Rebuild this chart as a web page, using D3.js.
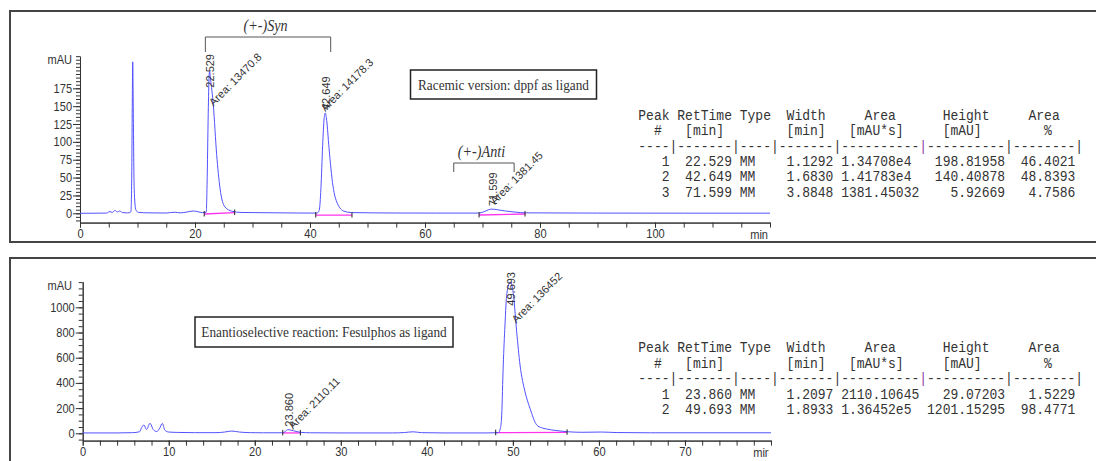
<!doctype html>
<html>
<head>
<meta charset="utf-8">
<style type="text/css">
html,body{
    margin: 0;
    background: #fff;
    overflow: hidden;
}
text { fill: #333; }
</style>
<script type="text/javascript" src="https://cdn.jsdelivr.net/npm/d3@7/dist/d3.min.js"></script>
</head>
<body>
<script type="text/javascript">
// traces, [min, mAU]
var racemicTrace = [
    [0,0],[4.6,0.3],[5.2,2.5],[5.6,1.2],[6.1,4],[6.5,1.8],[6.9,3.2],[7.4,1],[8.3,0.5],[8.85,2],
    [9.0,55],[9.1,160],[9.17,212],[9.27,140],[9.42,35],[9.7,5],[10.2,1.2],[12,0.6],[15,0.4],
    [16.5,1.5],[17.5,0.6],[18.6,1.8],[19.7,3.2],[20.5,2.2],[21.3,1],[21.95,1.5],
    [22.1,40],[22.3,140],[22.45,192],[22.53,198.8],[22.7,188],[23.18,152],[23.77,82],[24.35,35],
    [25.2,9],[26.4,3],[28,1.2],[32,0.8],[38,0.4],[41.2,0.3],[41.6,4],[41.9,35],[42.2,95],
    [42.45,132],[42.65,140.4],[42.9,130],[43.3,92],[44,38],[44.75,14],[45.9,3],[47.2,1],
    [55,0.4],[62,0.3],[69.3,0.3],[70.2,2],[71,4.8],[71.6,5.9],[72.6,5],[74,3.2],[75.8,1.6],
    [77.5,0.6],[90,0.3],[105,0.2],[120,0.2]
];
var fesulTrace = [
    [0,3],[4,3],[5.8,5],[6.6,12],[6.85,45],[7.12,66],[7.42,30],[7.82,79],[8.2,30],[8.6,14],
    [8.95,40],[9.25,79],[9.55,25],[10,10],[11,7],[13,5],[15.5,5],[16.5,10],[17.32,18],
    [18.2,10],[19.5,5],[21,4],[23.2,4],[23.5,12],[23.86,29],[24.5,20],[25.3,8],[26.5,4],
    [30,3],[36,3],[37.4,6],[38.4,12],[39.4,5],[42,3],[47,3],[48.3,5],[48.55,40],[48.7,145],
    [48.88,542],[49.08,860],[49.3,1110],[49.69,1201],[50.05,1110],[50.44,806],[50.83,542],
    [51.41,330],[51.99,198],[52.77,66],[53.3,45],[53.93,34],[55,22],[56.25,13],[58,8],
    [60.3,10],[62,6],[66,4],[80,4]
];

// integration results
var racemicNo = [1, 2, 3];
var racemicRT = [22.529, 42.649, 71.599];
var racemicType = ["MM", "MM", "MM"];
var racemicWidth = ["1.1292", "1.6830", "3.8848"];
var racemicArea = ["1.34708e4", "1.41783e4", "1381.45032"];
var racemicHeight = [198.81958, 140.40878, 5.92669];
var racemicPct = ["46.4021", "48.8393", "4.7586"];
var racemicAreaLabel = ["13470.8", "14178.3", "1381.45"];
// peak start / end on the baseline: [t0, v0, t1, v1]
var racemicBase = [[21.6,-1,26.9,1], [41.0,-2.5,47.3,-2.5], [69.4,-2.4,77.4,-1]];

var fesulNo = [1, 2];
var fesulRT = [23.860, 49.693];
var fesulType = ["MM", "MM"];
var fesulWidth = ["1.2097", "1.8933"];
var fesulArea = ["2110.10645", "1.36452e5"];
var fesulHeight = [29.07203, 1201.15295];
var fesulPct = ["1.5229", "98.4771"];
var fesulAreaLabel = ["2110.11", "136452"];
var fesulBase = [[23.25,3,25.3,3], [48.0,5,56.3,8]];

var racemicTicksY = [0, 25, 50, 75, 100, 125, 150, 175];
var racemicTicksX = [0, 20, 40, 60, 80, 100];
var fesulTicksY = [0, 200, 400, 600, 800, 1000];
var fesulTicksX = [0, 10, 20, 30, 40, 50, 60, 70];

var tableHead = [
    "Peak RetTime Type  Width     Area      Height     Area",
    "  #   [min]        [min]   [mAU*s]     [mAU]        %"
];

var SX = 0.885; // the scanned report is squeezed a little horizontally
var SANS = "Liberation Sans, Arial, sans-serif";
var SERIF = "Liberation Serif, Times New Roman, serif";
var MONO = "Liberation Mono, Courier New, monospace";

var svg = d3.select("body").append("svg:svg")
    .attr("width", 1096)
    .attr("height", 461);

function nb(s){ return s.replace(/ /g, "\u00a0"); }

function htext(g, x, y, str){
    return g.append("text")
        .attr("transform", "translate(" + x + "," + y + ") scale(" + SX + ",1)")
        .text(nb(str));
}

function drawPanel(o){
    var g = svg.append("g");
    var x = o.x, y = o.y;
    var x0 = x.range()[0], yAx = y.range()[0];

    // frame
    g.append("rect")
        .attr("x", 10).attr("y", o.frameY)
        .attr("width", 1200).attr("height", o.frameH)
        .attr("fill", "none").attr("stroke", "#444").attr("stroke-width", 2);

    // axes
    var yMinor = d3.axisLeft(y).tickValues(o.yMinor).tickSize(4).tickFormat("").tickSizeOuter(0);
    var yMajor = d3.axisLeft(y).tickValues(o.yMajor).tickSize(7).tickPadding(2)
        .tickFormat(d3.format("d")).tickSizeOuter(0);
    var xMinor = d3.axisBottom(x).tickValues(o.xMinor).tickSize(5).tickFormat("").tickSizeOuter(0);
    var xMajor = d3.axisBottom(x).tickValues(o.xMajor).tickSize(5).tickPadding(1.5)
        .tickFormat(d3.format("d")).tickSizeOuter(0);

    [yMinor, yMajor].forEach(function(ax){
        g.append("g").attr("transform", "translate(" + x0 + ",0)").call(ax);
    });
    [xMinor, xMajor].forEach(function(ax){
        g.append("g").attr("transform", "translate(0," + yAx + ")").call(ax);
    });
    g.selectAll(".tick text")
        .attr("transform", "scale(" + SX + ",1)")
        .style("font-family", SANS).style("font-size", "12.5px")
        .attr("fill", "#333");
    g.selectAll(".domain, .tick line").attr("stroke", "#333");

    htext(g, 72, y.range()[1] + 8, "mAU").attr("text-anchor", "end")
        .style("font-family", SANS).style("font-size", "12.5px");

    var clipId = "clip" + o.frameY;
    svg.append("clipPath").attr("id", clipId).append("rect")
        .attr("x", 0).attr("y", 0).attr("width", 768.5).attr("height", 461);
    htext(g.append("g").attr("clip-path", "url(#" + clipId + ")"), o.minX, yAx + 16.5, "min")
        .attr("text-anchor", "end")
        .style("font-family", SANS).style("font-size", "12.5px");

    // baselines of the integrated peaks
    o.base.forEach(function(b){
        g.append("line")
            .attr("x1", x(b[0])).attr("y1", y(b[1]))
            .attr("x2", x(b[2])).attr("y2", y(b[3]))
            .attr("stroke", "#ff33ee").attr("stroke-width", 1.3);
    });

    // trace
    var line = d3.line()
        .x(function(d){ return x(d[0]); })
        .y(function(d){ return y(d[1]); })
        .curve(d3.curveMonotoneX);
    g.append("path")
        .datum(o.trace)
        .attr("d", line)
        .attr("fill", "none")
        .attr("stroke", "#5252ff")
        .attr("stroke-width", 1);

    o.base.forEach(function(b){
        [[b[0], b[1]], [b[2], b[3]]].forEach(function(p){
            g.append("line")
                .attr("x1", x(p[0])).attr("x2", x(p[0]))
                .attr("y1", y(p[1]) - 3).attr("y2", y(p[1]) + 2.5)
                .attr("stroke", "#222");
        });
    });

    // peak labels
    o.rt.forEach(function(rt, i){
        var xc = x(rt) + 1;
        var t = g.append("text")
            .attr("text-anchor", "start")
            .attr("dy", "0.35em")
            .style("font-family", SANS).style("font-size", "11px")
            .text(rt.toFixed(3));
        var len = t.node().getComputedTextLength();
        var yb = Math.max(y(o.height[i]) - 3, o.labelTop + len);
        t.attr("transform", "translate(" + xc + "," + yb + ") rotate(-90)");

        var nudge = o.nudge[i];
        g.append("text")
            .attr("transform", "translate(" + (x(rt) + nudge[0]) + "," + (yb + nudge[1]) + ") rotate(-45)")
            .style("font-family", SANS).style("font-size", "11px")
            .text("Area: " + o.areaLabel[i]);
    });

    // brackets
    o.brackets.forEach(function(b){
        var a = x(b[0]), c = x(b[1]);
        g.append("path")
            .attr("d", "M" + a + "," + b[3] + "V" + b[2] + "H" + c + "V" + b[3])
            .attr("fill", "none").attr("stroke", "#555").attr("stroke-width", 1);
        htext(g, (a + c) / 2 - 2.5, b[2] - 6, b[4])
            .attr("text-anchor", "middle")
            .style("font-family", SERIF).style("font-style", "italic").style("font-size", "16px");
    });

    // note box
    g.append("rect")
        .attr("x", o.box[0]).attr("y", o.box[1]).attr("width", o.box[2]).attr("height", o.box[3])
        .attr("fill", "#fff").attr("stroke", "#222").attr("stroke-width", 1.5);
    htext(g, o.box[0] + o.box[2] / 2, o.box[1] + o.box[3] / 2 + 5, o.note)
        .attr("text-anchor", "middle")
        .style("font-family", SERIF).style("font-size", "15px");

    // results table
    var ty = o.tableY, step = o.tableStep, tx = 638.3;
    tableHead.forEach(function(s, k){
        htext(g, tx, ty + k * step, s);
    });
    var dash = g.append("text")
        .attr("transform", "translate(" + tx + "," + (ty + 2 * step) + ") scale(" + SX + ",1)");
    dash.append("tspan").text("----|-------|----|-------|----------");
    dash.append("tspan").attr("fill", "#8a3aa8").text("|");
    dash.append("tspan").text("----------|--------|");
    o.rows.forEach(function(r, k){
        var s = String(r[0]).padStart(4) + r[1].toFixed(3).padStart(8) + " " + r[2].padEnd(4) +
            r[3].padStart(8) + " " + r[4].padEnd(10) + r[5].toFixed(5).padStart(11) + r[6].padStart(9);
        htext(g, tx, ty + (3 + k) * step, s);
    });
    g.selectAll("text").filter(function(){ return !this.style.fontFamily; })
        .style("font-family", MONO).style("font-size", "14.7px");
}

var kTop = 125 / 175;
var xTop = d3.scaleLinear().domain([0, 120]).range([80, 770]);
var yTop = d3.scaleLinear().domain([-13, 220]).range([213.3 + 13 * kTop, 213.3 - 220 * kTop]);

var kBot = 0.126;
var xBot = d3.scaleLinear().domain([0, 80]).range([82.7, 771]);
var yBot = d3.scaleLinear().domain([-58, 1203]).range([433.3 + 58 * kBot, 433.3 - 1203 * kBot]);

function rowsOf(no, rt, type, width, area, height, pct){
    return no.map(function(n, i){
        return [n, rt[i], type[i], width[i], area[i], height[i], pct[i]];
    });
}

drawPanel({
    x: xTop, y: yTop, frameY: 11, frameH: 231, minX: 768,
    yMajor: racemicTicksY, yMinor: d3.range(-10, 221, 5),
    xMajor: racemicTicksX, xMinor: d3.range(0, 121, 5),
    trace: racemicTrace, base: racemicBase,
    rt: racemicRT, height: racemicHeight, areaLabel: racemicAreaLabel,
    labelTop: 54, nudge: [[4, 19], [0, 2], [3, -1]],
    brackets: [[21.8, 43.6, 37, 52, "(+-)Syn"], [65, 75.5, 163, 172, "(+-)Anti"]],
    box: [410.5, 70, 186, 29], note: "Racemic version: dppf as ligand",
    tableY: 119.8, tableStep: 15.4,
    rows: rowsOf(racemicNo, racemicRT, racemicType, racemicWidth, racemicArea, racemicHeight, racemicPct)
});

drawPanel({
    x: xBot, y: yBot, frameY: 258, frameH: 300, minX: 771,
    yMajor: fesulTicksY, yMinor: d3.range(-50, 1201, 50),
    xMajor: fesulTicksX, xMinor: d3.range(0, 81, 2),
    trace: fesulTrace, base: fesulBase,
    rt: fesulRT, height: fesulHeight, areaLabel: fesulAreaLabel,
    labelTop: 272, nudge: [[5, 3], [6, 18]],
    brackets: [],
    box: [195, 317, 258, 30], note: "Enantioselective reaction: Fesulphos as ligand",
    tableY: 352, tableStep: 15.6,
    rows: rowsOf(fesulNo, fesulRT, fesulType, fesulWidth, fesulArea, fesulHeight, fesulPct)
});
</script>
</body>
</html>
